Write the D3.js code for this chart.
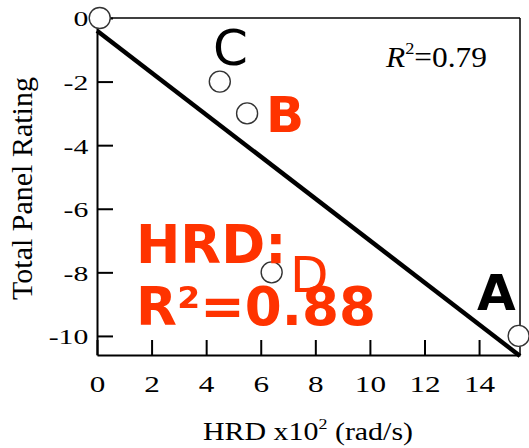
<!DOCTYPE html>
<html>
<head>
<meta charset="utf-8">
<script src="https://cdn.jsdelivr.net/npm/d3@7"></script>
<style>
  body { margin: 0; background: #fff; }
  svg { display: block; }
</style>
</head>
<body>
<svg id="chart" width="529" height="448"></svg>
<script>
// Measured points: head rotation difference vs. total panel rating
const hrd = [0.1, 4.5, 5.5, 6.4, 15.45];
const rating = [0, -2, -3, -8, -10];

// Least-squares fit line endpoints
const fitX = [0, 15.5];
const fitY = [-0.4, -10.63];

const xTickValues = [0, 2, 4, 6, 8, 10, 12, 14];
const yTickValues = [0, -2, -4, -6, -8, -10];

const red = "#ff3300";

const svg = d3.select("#chart");

const x = d3.scaleLinear().domain([0, 15.5]).range([97, 520]);
const y = d3.scaleLinear().domain([0, -10.6]).range([18, 355]);

// Top and right frame
svg.append("line").attr("x1", x(0)).attr("x2", x(15.5)).attr("y1", y(0)).attr("y2", y(0))
  .attr("stroke", "#000").attr("stroke-width", 1.5);
svg.append("line").attr("x1", x(15.5)).attr("x2", x(15.5)).attr("y1", y(0)).attr("y2", y(-10.6))
  .attr("stroke", "#000").attr("stroke-width", 1.5);

// Axes with inward ticks
const yAxis = svg.append("g")
  .attr("transform", `translate(${x(0)},0)`)
  .call(d3.axisLeft(y).tickValues(yTickValues).tickSize(-16).tickSizeOuter(0).tickFormat(d3.format("d")));
const xAxis = svg.append("g")
  .attr("transform", `translate(0,${y(-10.6)})`)
  .call(d3.axisBottom(x).tickValues(xTickValues).tickSize(-15).tickSizeOuter(0).tickFormat(d3.format("d")));

[yAxis, xAxis].forEach(g => {
  g.select(".domain").attr("stroke", "#000").attr("stroke-width", 2);
  g.selectAll(".tick line").attr("stroke", "#000").attr("stroke-width", 2);
  g.selectAll("text")
    .attr("fill", "#000")
    .style("font-family", "'Liberation Serif', 'Times New Roman', serif");
});

yAxis.selectAll(".tick text")
  .text(d => d === 0 ? "0" : "-" + Math.abs(d))
  .attr("x", -6.5).attr("dy", "0.36em")
  .attr("text-anchor", "end")
  .attr("transform", "scale(1.35,1)")
  .style("font-size", "22px");

xAxis.selectAll(".tick text")
  .attr("y", 37).attr("dy", 0)
  .attr("transform", "scale(1.3,1)")
  .style("font-size", "24px");

// Axis titles
svg.append("text")
  .attr("transform", `translate(32,${(y(0) + y(-10.6)) / 2 + 2}) rotate(-90)`)
  .attr("text-anchor", "middle")
  .style("font-family", "'Liberation Serif', 'Times New Roman', serif")
  .style("font-size", "30px")
  .attr("fill", "#000")
  .text("Total Panel Rating");

const xTitle = svg.append("text")
  .attr("x", 203).attr("y", 440)
  .attr("textLength", 210).attr("lengthAdjust", "spacingAndGlyphs")
  .style("font-family", "'Liberation Serif', 'Times New Roman', serif")
  .style("font-size", "25px")
  .attr("fill", "#000");
xTitle.append("tspan").text("HRD x10");
xTitle.append("tspan").attr("dy", -11).style("font-size", "15px").text("2");
xTitle.append("tspan").attr("dy", 11).text(" (rad/s)");

// Regression line
svg.append("line")
  .attr("x1", x(fitX[0])).attr("y1", y(fitY[0]))
  .attr("x2", x(fitX[1])).attr("y2", y(fitY[1]))
  .attr("stroke", "#000").attr("stroke-width", 4.5).attr("stroke-linecap", "butt");

// Data points
svg.append("g").selectAll("circle")
  .data(d3.range(hrd.length))
  .join("circle")
  .attr("cx", i => x(hrd[i]))
  .attr("cy", i => y(rating[i]))
  .attr("r", 10.5)
  .attr("fill", "#fff")
  .attr("stroke", "#333")
  .attr("stroke-width", 1.4);

// Fit statistic for the full set
const r79 = svg.append("text")
  .attr("x", 386).attr("y", 67)
  .attr("textLength", 101).attr("lengthAdjust", "spacingAndGlyphs")
  .style("font-family", "'Liberation Serif', 'Times New Roman', serif")
  .style("font-size", "29px")
  .attr("fill", "#000");
r79.append("tspan").style("font-style", "italic").text("R");
r79.append("tspan").attr("dy", -13).style("font-size", "17px").text("2");
r79.append("tspan").attr("dy", 13).text("=0.79");

// Point labels
const sans = "'DejaVu Sans', Verdana, sans-serif";
svg.append("text").attr("x", 213).attr("y", 65)
  .style("font-family", sans).style("font-size", "50px").attr("fill", "#000").text("C");
svg.append("text").attr("x", 266).attr("y", 132)
  .style("font-family", sans).style("font-size", "50px").style("font-weight", "bold").attr("fill", red).text("B");
svg.append("text").attr("x", 477).attr("y", 310)
  .style("font-family", sans).style("font-size", "50px").style("font-weight", "bold").attr("fill", "#000").text("A");

// HRD fit annotation
svg.append("text").attr("x", 136).attr("y", 263)
  .style("font-family", sans).style("font-size", "53px").style("font-weight", "bold").attr("fill", red).text("HRD:");
svg.append("text").attr("x", 290).attr("y", 292)
  .style("font-family", sans).style("font-size", "50px").attr("fill", red).text("D");
svg.append("text").attr("x", 136).attr("y", 325)
  .attr("textLength", 240).attr("lengthAdjust", "spacingAndGlyphs")
  .style("font-family", sans).style("font-size", "53px").style("font-weight", "bold").attr("fill", red).text("R²=0.88");
</script>
</body>
</html>
